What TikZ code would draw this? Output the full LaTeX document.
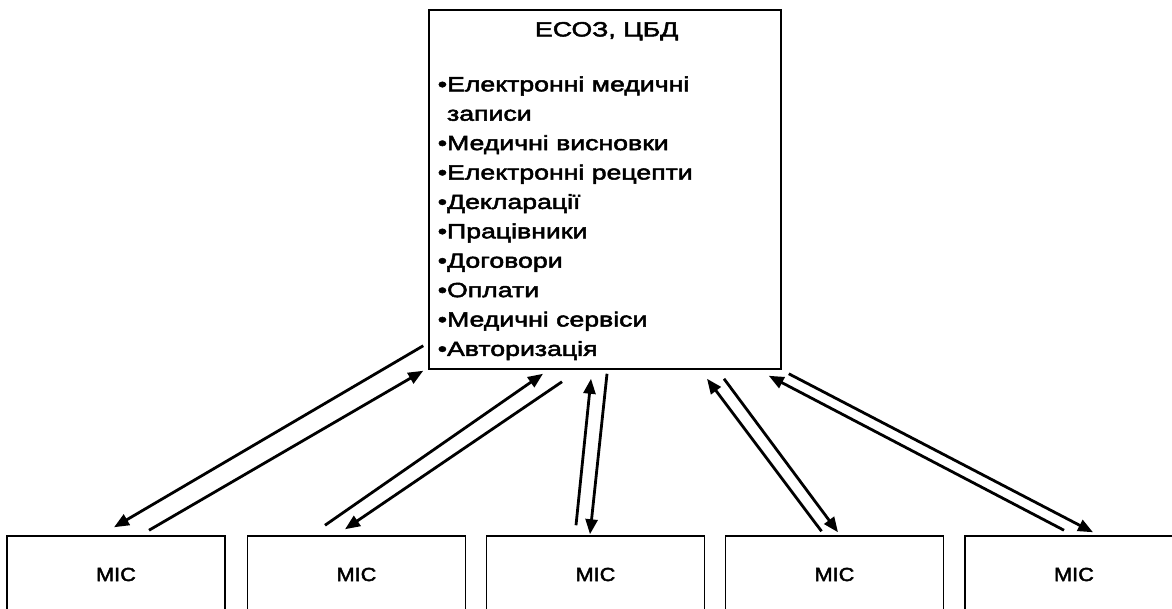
\documentclass[tikz,border=0pt]{standalone}
\usepackage{fontspec}
\newfontfamily\medfont{Liberation Sans}[FakeBold=2.5, FakeStretch=1.3]
\newfontfamily\misfont{Liberation Sans}[FakeBold=2.5, FakeStretch=1.14]
\usetikzlibrary{arrows.meta}

\begin{document}
\begin{tikzpicture}[x=1pt, y=-1pt,
  mainbox/.style={draw, line width=1.5pt, minimum width=352pt, minimum height=359pt, inner sep=0pt},
  misbox/.style={draw, line width=1.5pt, minimum width=218pt, minimum height=77pt, inner sep=0pt,
    font=\misfont\fontsize{19}{23}\selectfont},
  boxtext/.style={inner sep=0pt, font=\medfont\fontsize{20.5}{29.4}\selectfont},
  link/.style={line width=2.8pt, -{Triangle[length=15pt, width=12pt]}}]

  \useasboundingbox (0,0) rectangle (1172,608);
  \clip (0,0) rectangle (1172,608);

  % -- Central registry --
  \node[mainbox] (ecoz) at (605,189.5) {};
  \node[boxtext] (title) at ([shift={(1.7,22)}]ecoz.north) {ЕСОЗ, ЦБД};
  \node[boxtext, align=left, anchor=north west] (items) at ([shift={(9.3,67)}]ecoz.north west)
    {•Електронні медичні\\
     \hphantom{•}записи\\
     •Медичні висновки\\
     •Електронні рецепти\\
     •Декларації\\
     •Працівники\\
     •Договори\\
     •Оплати\\
     •Медичні сервіси\\
     •Авторизація};

  % -- Medical information systems --
  \node[misbox] (mis1) at (116,574.5) {МІС};
  \node[misbox] (mis2) at (356.5,574.5) {МІС};
  \node[misbox] (mis3) at (595.5,574.5) {МІС};
  \node[misbox] (mis4) at (834.5,574.5) {МІС};
  \node[misbox] (mis5) at (1074,574.5) {МІС};

  % -- Exchange arrows --
  \draw[link] ([shift={(-5,-24)}]ecoz.south west) -- ([shift={(-2,-8)}]mis1.north);
  \draw[link] ([shift={(33,-5)}]mis1.north) -- ([shift={(-5,1)}]ecoz.south west);

  \draw[link] ([shift={(-31.5,-10)}]mis2.north) -- ([shift={(-62,4)}]ecoz.south);
  \draw[link] ([shift={(-43,12)}]ecoz.south) -- ([shift={(-11.5,-6)}]mis2.north);

  \draw[link] ([shift={(-19.5,-10)}]mis3.north) -- ([shift={(-14,9)}]ecoz.south);
  \draw[link] ([shift={(2,4)}]ecoz.south) -- ([shift={(-5.5,-1)}]mis3.north);

  \draw[link] ([shift={(-13,-4)}]mis4.north) -- ([shift={(102,9)}]ecoz.south);
  \draw[link] ([shift={(119,9)}]ecoz.south) -- ([shift={(3.5,-3)}]mis4.north);

  \draw[link] ([shift={(-10,-5)}]mis5.north) -- ([shift={(-13,6)}]ecoz.south east);
  \draw[link] ([shift={(7,4)}]ecoz.south east) -- ([shift={(19,-3)}]mis5.north);

\end{tikzpicture}
\end{document}
